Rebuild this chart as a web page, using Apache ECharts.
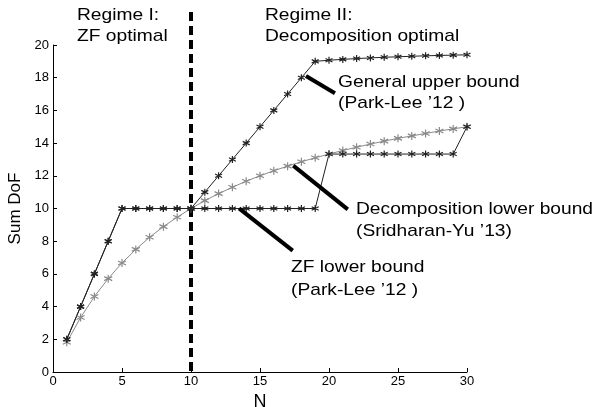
<!DOCTYPE html>
<html>
<head>
<meta charset="utf-8">
<script src="https://cdn.jsdelivr.net/npm/echarts@6/dist/echarts.min.js"></script>
<style>
  html, body { margin: 0; padding: 0; background: #fff; }
  #chart { width: 606px; height: 407px; }
</style>
</head>
<body>
<div id="chart"></div>
<script>
// N values
const nValues = [1, 2, 3, 4, 5, 6, 7, 8, 9, 10, 11, 12, 13, 14, 15, 16, 17, 18, 19, 20, 21, 22, 23, 24, 25, 26, 27, 28, 29, 30];
// general upper bound (Park-Lee '12)
const upperBound = [2, 4, 6, 8, 10, 10, 10, 10, 10, 10, 11, 12, 13, 14, 15, 16, 17, 18, 19, 19.07, 19.12, 19.17, 19.21, 19.25, 19.28, 19.31, 19.34, 19.36, 19.38, 19.4];
// ZF lower bound (Park-Lee '12)
const zfLower = [2, 4, 6, 8, 10, 10, 10, 10, 10, 10, 10, 10, 10, 10, 10, 10, 10, 10, 10, 13.33, 13.33, 13.33, 13.33, 13.33, 13.33, 13.33, 13.33, 13.33, 13.33, 15];
// decomposition lower bound (Sridharan-Yu '13)
const decompLower = [1.82, 3.33, 4.62, 5.71, 6.67, 7.5, 8.24, 8.89, 9.47, 10, 10.48, 10.91, 11.3, 11.67, 12, 12.31, 12.59, 12.86, 13.1, 13.33, 13.55, 13.75, 13.94, 14.12, 14.29, 14.44, 14.59, 14.74, 14.87, 15];
const xTicks = [0, 5, 10, 15, 20, 25, 30];
const yTicks = [0, 2, 4, 6, 8, 10, 12, 14, 16, 18, 20];
const boundary = 10;

// pointer lines from the labels to the curves (data coords)
const pointers = {
  upper: [[18.33, 18.1], [20.43, 17.05]],
  decomp: [[17.41, 12.62], [21.36, 9.95]],
  zf: [[13.48, 10.01], [17.37, 7.42]]
};

const FONT = 'Liberation Sans, Arial, sans-serif';
const asterisk = 'path://M0,-5L0,5M-4.33,-2.5L4.33,2.5M-4.33,2.5L4.33,-2.5';

function pairs(ys) {
  return nValues.map((n, i) => [n, ys[i]]);
}

function pointerLine(p) {
  return [{coord: p[0]}, {coord: p[1]}];
}

let myChart = echarts.init(document.getElementById('chart'));

let option = {
  animation: false,
  backgroundColor: '#fff',
  grid: {left: 53, right: 139, top: 45, bottom: 35, outerBoundsMode: 'none'},
  xAxis: {
    type: 'value', min: xTicks[0], max: xTicks[xTicks.length - 1], interval: 5,
    name: 'N', nameLocation: 'middle', nameGap: 15,
    nameTextStyle: {fontFamily: FONT, fontSize: 18, color: '#000'},
    axisLine: {show: true, lineStyle: {color: '#000', width: 1}},
    axisTick: {show: true, inside: true, length: 4, lineStyle: {color: '#000'}},
    axisLabel: {fontFamily: FONT, fontSize: 13, color: '#000', margin: 3},
    splitLine: {show: false}
  },
  yAxis: {
    type: 'value', min: yTicks[0], max: yTicks[yTicks.length - 1], interval: 2,
    name: 'Sum DoF', nameLocation: 'middle', nameGap: 16,
    nameTextStyle: {fontFamily: FONT, fontSize: 17, color: '#000'},
    axisLine: {show: true, lineStyle: {color: '#000', width: 1}},
    axisTick: {show: true, inside: true, length: 4, lineStyle: {color: '#000'}},
    axisLabel: {fontFamily: FONT, fontSize: 13, color: '#000', margin: 4},
    splitLine: {show: false}
  },
  series: [
    {
      name: 'Decomposition lower bound', type: 'line', data: pairs(decompLower),
      symbol: asterisk, symbolSize: 8,
      itemStyle: {color: 'none', borderColor: '#8a8a8a', borderWidth: 1.2},
      lineStyle: {color: '#8a8a8a', width: 1},
      markLine: {
        silent: true, symbol: 'none', label: {show: false},
        lineStyle: {color: '#000', width: 4, type: 'solid'},
        data: [pointerLine(pointers.decomp)]
      }
    },
    {
      name: 'ZF lower bound', type: 'line', data: pairs(zfLower),
      symbol: asterisk, symbolSize: 7,
      itemStyle: {color: 'none', borderColor: '#222', borderWidth: 1.2},
      lineStyle: {color: '#222', width: 1},
      markLine: {
        silent: true, symbol: 'none', label: {show: false},
        lineStyle: {color: '#000', width: 4, type: 'solid'},
        data: [pointerLine(pointers.zf)]
      }
    },
    {
      name: 'General upper bound', type: 'line', data: pairs(upperBound),
      symbol: asterisk, symbolSize: 7,
      itemStyle: {color: 'none', borderColor: '#222', borderWidth: 1.2},
      lineStyle: {color: '#222', width: 1},
      markLine: {
        silent: true, symbol: 'none', label: {show: false},
        lineStyle: {color: '#000', width: 4, type: 'solid'},
        data: [pointerLine(pointers.upper)]
      }
    }
  ]
};
myChart.setOption(option);

// dashed regime boundary and text labels
let bx = myChart.convertToPixel({xAxisIndex: 0}, boundary);
let by0 = myChart.convertToPixel({yAxisIndex: 0}, 0);

function label(x, y, text) {
  return {
    type: 'text', x: x, y: y, scaleX: 1.13, silent: true,
    style: {text: text, fill: '#000', font: '17px ' + FONT, verticalAlign: 'middle'}
  };
}

myChart.setOption({
  graphic: [
    {
      type: 'line', silent: true,
      shape: {x1: bx, y1: 12, x2: bx, y2: by0},
      style: {stroke: '#000', lineWidth: 4, lineDash: [9, 5]}
    },
    label(77, 15, 'Regime I:'),
    label(77, 36, 'ZF optimal'),
    label(265, 15, 'Regime II:'),
    label(265, 36, 'Decomposition optimal'),
    label(338, 82, 'General upper bound'),
    label(338, 103, '(Park-Lee \u201912 )'),
    label(356, 209, 'Decomposition lower bound'),
    label(356, 231, '(Sridharan-Yu \u201913)'),
    label(291, 267, 'ZF lower bound'),
    label(291, 290, '(Park-Lee \u201912 )')
  ]
});
</script>
</body>
</html>
